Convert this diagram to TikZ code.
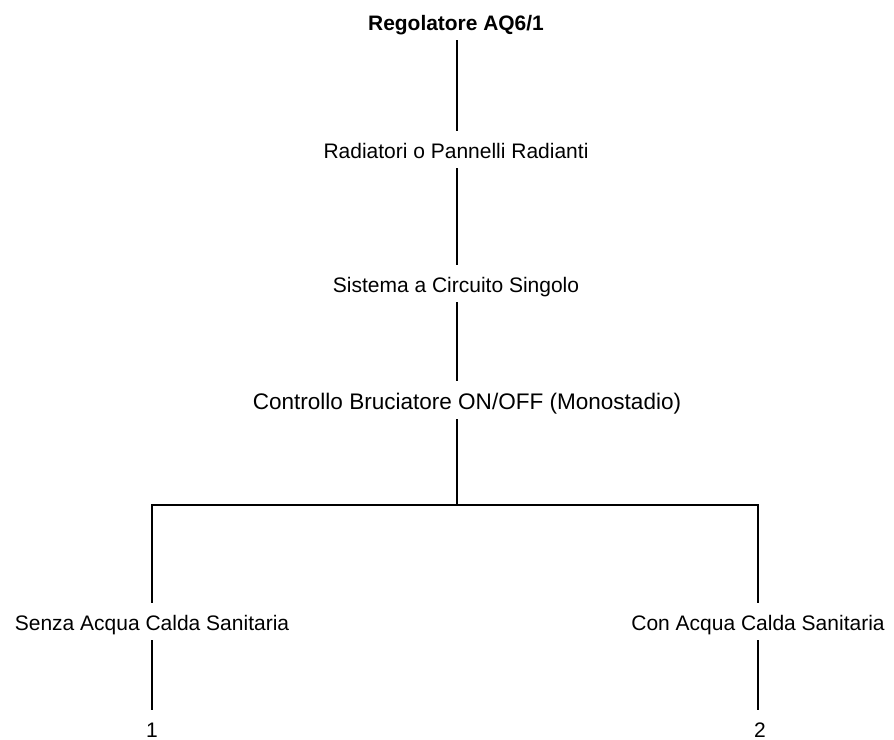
\documentclass[tikz,border=0pt]{standalone}
\usepackage{fontspec}
\setmainfont{Liberation Sans}
\begin{document}
\begin{tikzpicture}[x=0.75pt,y=-0.75pt,
  label/.style={anchor=base, inner xsep=0pt, inner ysep=0pt,
    text height=20.25pt, text depth=7.5pt,
    font=\fontsize{15.75}{18}\selectfont},
  endlabel/.style={label, text depth=0pt},
  link/.style={line width=1.1pt, line cap=butt}]
\useasboundingbox (0,0) rectangle (894,740);

% vertical trunk position and the fork of the two branches
\coordinate (trunk) at (457,0);
\coordinate (fork) at (457,505);

% labels of the tree
\node[label, font=\fontsize{15.7}{18}\selectfont\bfseries] (root) at (456,30) {Regolatore AQ6/1};
\node[label] (rad) at (456,158) {Radiatori o Pannelli Radianti};
\node[label] (sis) at (456,292) {Sistema a Circuito Singolo};
\node[label, text height=21pt, font=\fontsize{16.9}{19}\selectfont] (ctrl) at (467,409) {Controllo Bruciatore ON/OFF (Monostadio)};
\node[label] (senza) at (152,630) {Senza Acqua Calda Sanitaria};
\node[label] (con) at (758,630) {Con Acqua Calda Sanitaria};
\node[endlabel] (one) at (152,737) {1};
\node[endlabel] (two) at (760,737) {2};

% connectors
\draw[link] (root.south -| trunk) -- (rad.north -| trunk);
\draw[link] (rad.south -| trunk) -- (sis.north -| trunk);
\draw[link] (sis.south -| trunk) -- (ctrl.north -| trunk);
\draw[link] (ctrl.south -| trunk) -- (fork);
\draw[link] (senza.north) -- (senza.north |- fork) -- (con.north |- fork) -- (con.north);
\draw[link] (senza.south) -- (one.north);
\draw[link] (con.south) -- (con.south |- two.north);
\end{tikzpicture}
\end{document}
